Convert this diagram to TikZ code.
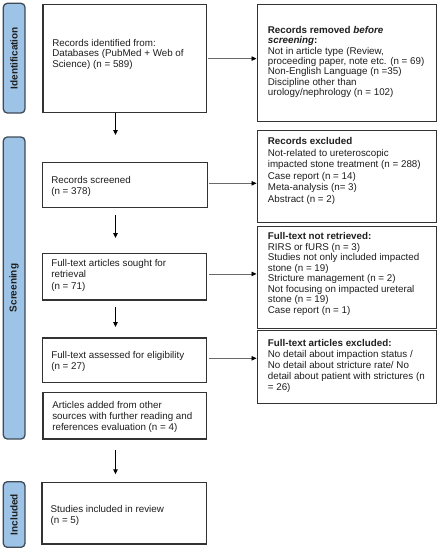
\documentclass[tikz,border=0pt]{standalone}
\usepackage{fontspec}
\setmainfont{Liberation Sans}
\usetikzlibrary{arrows.meta,calc}
\definecolor{barfill}{HTML}{9DC3E6}
\definecolor{barline}{HTML}{3F4B57}
\definecolor{boxline}{HTML}{333333}
\definecolor{hlinecol}{HTML}{6A6A6A}
\definecolor{txt}{HTML}{1E1E1E}
% #1 width, #2 height, #3 top pad, #4 baselineskip, #5 left inset, #6 text
\newcommand\bxtext[6]{\parbox[c][#2][t]{#1}{\fontsize{9.8}{#4}\selectfont\raggedright\leftskip=#5\relax\vspace*{#3}\rule{0pt}{7pt}#6}}
\begin{document}
\begin{tikzpicture}[x=1pt,y=1pt,
  box/.style={draw=boxline, line width=1.2pt, inner sep=0pt, anchor=north west, fill=white, text=txt},
  sidebar/.style={draw=barline, fill=barfill, line width=1.3pt, rounded corners=4pt, rotate=90,
    inner sep=0pt, text=txt, font=\fontsize{10}{12}\selectfont\bfseries},
  vline/.style={draw=black, line width=1.2pt, -{Triangle[length=5pt,width=4.5pt]}},
  hline/.style={draw=hlinecol, line width=0.7pt, -{Triangle[length=5pt,width=4.5pt,color=black]}}]
\useasboundingbox (0,0) rectangle (440,-550);

% side bars
\node[sidebar, minimum width=109.7pt, minimum height=21.7pt] (sid) at (14.15,-58.15) {Identification};
\node[sidebar, minimum width=302pt, minimum height=21.7pt] (sscr) at (14.15,-288) {Screening};
\node[sidebar, minimum width=65.6pt, minimum height=21.7pt] (sinc) at (14.15,-514.5) {Included};

% left column
\node[box] (b1) at (42.3,-4) {\bxtext{163.4pt}{108pt}{34.9pt}{10.3pt}{9.4pt}{Records identified from:\\Databases (PubMed + Web of\\Science) (n = 589)}};
\node[box] (b2) at (41.7,-161.7) {\bxtext{165pt}{45pt}{13.8pt}{11.4pt}{9pt}{Records screened\\(n = 378)}};
\node[box] (b3) at (41.7,-252.7) {\bxtext{164.5pt}{46.6pt}{6.2pt}{11.2pt}{9pt}{Full-text articles sought for\\retrieval\\(n = 71)}};
\node[box] (b4) at (41.7,-337.3) {\bxtext{164.5pt}{44.4pt}{13.2pt}{11.4pt}{9pt}{Full-text assessed for eligibility\\(n = 27)}};
\node[box] (b5) at (42.3,-391.7) {\bxtext{163.7pt}{46.6pt}{9.5pt}{10.85pt}{9.4pt}{Articles added from other\\sources with further reading and\\references evaluation (n = 4)}};
\node[box] (b6) at (41.3,-481.7) {\bxtext{164.4pt}{61.6pt}{22.8pt}{11.7pt}{8.7pt}{Studies included in review\\(n = 5)}};

% right column
\node[box] (r1) at (256.5,-4) {\bxtext{179pt}{117pt}{21.5pt}{10.4pt}{10.8pt}{\textbf{Records removed \textit{before}}\\\textbf{\textit{screening}:}\\Not in article type (Review,\\proceeding paper, note etc. (n = 69)\\Non-English Language (n =35)\\Discipline other than\\urology/nephrology (n = 102)}};
\node[box] (r2) at (256.5,-130) {\bxtext{179pt}{92pt}{6.9pt}{11.5pt}{10.8pt}{\textbf{Records excluded}\\Not-related to ureteroscopic\\impacted stone treatment (n = 288)\\Case report (n = 14)\\Meta-analysis (n= 3)\\Abstract (n = 2)}};
\node[box] (r3) at (256.5,-225.5) {\bxtext{179pt}{102.5pt}{6.7pt}{10.5pt}{10.8pt}{\textbf{Full-text not retrieved:}\\RIRS or fURS (n = 3)\\Studies not only included impacted\\stone (n = 19)\\Stricture management (n = 2)\\Not focusing on impacted ureteral\\stone (n = 19)\\Case report (n = 1)}};
\node[box] (r4) at (256.5,-330) {\bxtext{179pt}{73pt}{8.5pt}{11.1pt}{10.8pt}{\textbf{Full-text articles excluded:}\\No detail about impaction status /\\No detail about stricture rate/ No\\detail about patient with strictures (n\\= 26)}};

% vertical arrows
\coordinate (a1e) at (115.5,-135);
\coordinate (a2s) at (115.5,-215);
\coordinate (a2e) at (115.5,-238);
\coordinate (a3s) at (115.5,-307);
\coordinate (a3e) at (115.5,-327);
\coordinate (a4s) at (115.5,-450);
\coordinate (a4e) at (115.5,-474.3);
\draw[vline] (b1.south -| a1e) -- (a1e);
\draw[vline] (a2s) -- (a2e);
\draw[vline] (a3s) -- (a3e);
\draw[vline] (a4s) -- (a4e);

% horizontal arrows
\draw[hline, shorten <=1.5pt] (b1.east) -- (b1.east -| r1.west);
\draw[hline, shorten <=1.5pt] ([yshift=1.5pt]b2.east) -- ([yshift=1.5pt]b2.east -| r2.west);
\draw[hline, shorten <=1.5pt] ([yshift=2.7pt]b3.east) -- ([yshift=2.7pt]b3.east -| r3.west);
\draw[hline, shorten <=1.5pt] ([yshift=1.8pt]b4.east) -- ([yshift=1.8pt]b4.east -| r4.west);
\end{tikzpicture}
\end{document}
